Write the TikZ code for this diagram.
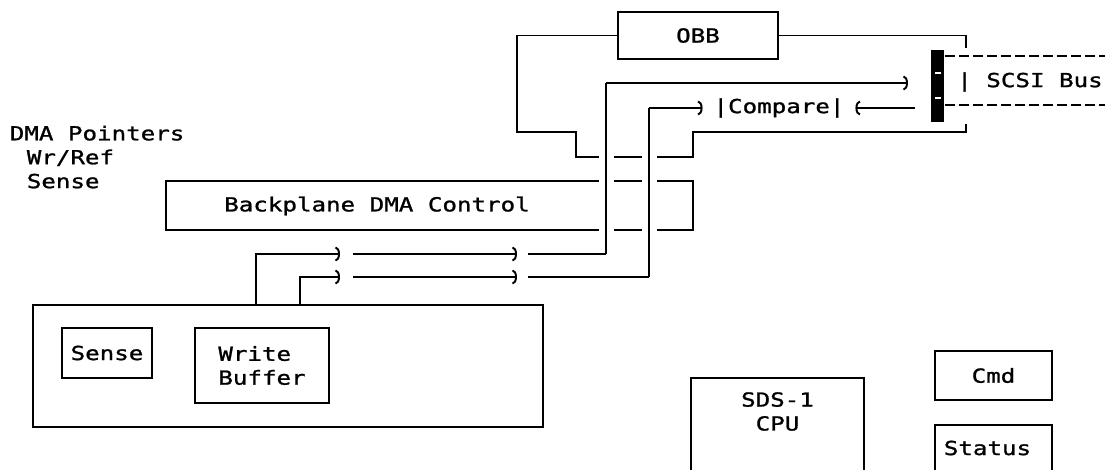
\documentclass[tikz,border=0pt]{standalone}
\usepackage{fontspec}
\newfontfamily\plotfont[FakeStretch=1.25, FakeBold=1.2]{DejaVu Sans Mono}
\usetikzlibrary{arrows.meta, positioning, calc}

\begin{document}
\begin{tikzpicture}[
    x=0.2mm, y=-0.2mm,
    font=\plotfont\fontsize{11}{13.6}\selectfont,
    line width=1.1pt,
    box/.style={rectangle, draw=black, line width=1.1pt, inner sep=0pt, align=center},
    sig/.style={-{Arc Barb[length=0.9mm, width=3mm]}},
    thru/.style={preaction={draw=white, line width=3mm}},
    busline/.style={dash pattern=on 2mm off 0.8mm},
]
\useasboundingbox (0,0) rectangle (1105,469);
\clip (0,0) rectangle (1105,469);

% Notes on the left
\node[align=left, anchor=west] (notes) at (3,157) {DMA Pointers\\\hspace*{3.4mm}Wr/Ref\\\hspace*{3.4mm}Sense};

% OBB and backplane
\node[box, minimum width=32mm, minimum height=9.4mm] (obb) at (698,35.5) {OBB};
\node[box, minimum width=105.4mm, minimum height=9.8mm] (bp) at (429.5,205.5) {};
\node (bptext) at (377,206) {Backplane DMA Control};

% SCSI connector
\node[fill=black, minimum width=2.6mm, minimum height=14.4mm, inner sep=0pt] (conn) at (937.5,86) {};
\draw[white, line width=0.8pt] (conn.center) ++(-3,-13) -- ++(6,0);
\draw[white, line width=0.8pt] (conn.center) ++(-3,12) -- ++(6,0);
\coordinate (busT) at (1105,56);
\coordinate (busB) at (1105,105);
\draw[busline] (conn.east |- busT) -- (busT);
\draw[busline] (conn.east |- busB) -- (busB);
\node (scsi) at (1030,82) {| SCSI Bus};

% OBB wiring round the connector
\coordinate (brkT) at (966,48);
\coordinate (brkB) at (966,124);
\coordinate (stair1) at (517,132);
\coordinate (stair2) at (576,157);
\coordinate (stair3) at (693,132);
\draw (obb.east) -| (brkT);
\draw (obb.west) -| (stair1) -| (stair2) -| (stair3) -| (brkB);

% Compare
\node[inner xsep=2mm] (cmp) at (779,108) {|Compare|};

% Host board
\node[box, minimum width=102mm, minimum height=24.4mm] (host) at (288,366) {};
\node[box, minimum width=18mm, minimum height=10mm] (sense) at (107,353) {Sense};
\node[box, minimum width=26.8mm, minimum height=15mm, align=left] (wbuf) at (262,365.5) {Write\\Buffer};

% CPU, Cmd, Status
\node[box, minimum width=34.6mm, minimum height=30mm, anchor=north] (cpu) at (777.5,377) {};
\node[align=center] (cputxt) at (777.5,411.5) {SDS-1\\CPU};
\node[box, minimum width=23.4mm, minimum height=9.8mm] (cmd) at (993.5,375.5) {Cmd};
\node[box, minimum width=23.4mm, minimum height=19.2mm, anchor=north] (status) at (993.5,424) {};
\node[anchor=west] (stattxt) at (937,448) {Status};

% Signal paths
\coordinate (jA) at (256,254);
\coordinate (jB) at (300,277);
\coordinate (dnA) at (606,254);
\coordinate (dnB) at (649,277);
\coordinate (upA) at (606,83);
\coordinate (upB) at (649,108);
\coordinate (tipA) at (908,83);
\coordinate (fromC) at (915,108);
\coordinate (cut1) at (340,0);
\coordinate (cut2) at (353,0);
\coordinate (cut3) at (517,0);
\coordinate (cut4) at (528,0);

\draw[thru] (dnA) -- (upA);
\draw[thru] (dnB) -- (upB);

\draw[sig] (host.north -| jA) -- (jA) -- (jA -| cut1);
\draw[sig] (jA -| cut2) -- (jA -| cut3);
\draw (jA -| cut4) -- (dnA);
\draw[sig] (upA) -- (tipA);

\draw[sig] (host.north -| jB) -- (jB) -- (jB -| cut1);
\draw[sig] (jB -| cut2) -- (jB -| cut3);
\draw (jB -| cut4) -- (dnB);
\draw[sig] (upB) -- (cmp.west);
\draw[sig] (fromC) -- (cmp.east);

\end{tikzpicture}
\end{document}
